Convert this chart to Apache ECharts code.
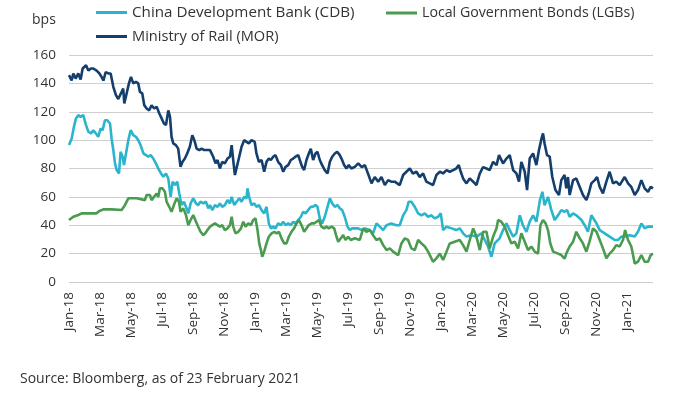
<!DOCTYPE html>
<html>
<head>
<meta charset="utf-8">
<script src="https://cdn.jsdelivr.net/npm/echarts@6/dist/echarts.min.js"></script>
<style>
html,body{margin:0;padding:0;background:#fff;}
#chart{width:673px;height:395px;}
</style>
</head>
<body>
<div id="chart"></div>
<script>
// x positions are months since 1 Jan 2018 (0 = Jan-18, 36 = Jan-21)
const monthNames = ['Jan','Feb','Mar','Apr','May','Jun','Jul','Aug','Sep','Oct','Nov','Dec'];
const yTicks = [0, 20, 40, 60, 80, 100, 120, 140, 160];

const morMonths = [0,0.17,0.28,0.43,0.6,0.75,0.88,1.1,1.25,1.42,1.57,1.78,1.96,2.1,2.22,2.37,2.54,2.69,2.86,3.03,3.18,3.29,3.4,3.5,3.57,3.72,3.87,4.0,4.15,4.32,4.47,4.58,4.73,4.86,5.01,5.18,5.33,5.5,5.66,5.83,5.98,6.13,6.26,6.41,6.52,6.62,6.73,6.9,7.05,7.2,7.33,7.48,7.63,7.8,7.96,8.09,8.24,8.41,8.56,8.73,8.88,9.1,9.31,9.46,9.59,9.74,9.89,10.06,10.23,10.39,10.5,10.6,10.71,10.86,10.99,11.14,11.31,11.46,11.61,11.78,11.89,11.99,12.1,12.26,12.43,12.6,12.75,12.9,13.03,13.18,13.33,13.5,13.68,13.83,13.98,14.15,14.32,14.47,14.62,14.8,14.9,15.05,15.18,15.33,15.48,15.61,15.76,15.91,16.04,16.19,16.34,16.51,16.69,16.84,16.99,17.16,17.31,17.48,17.59,17.76,17.91,18.06,18.23,18.45,
  18.67,18.9,19.1,19.3,19.53,19.74,19.96,20.17,20.39,20.6,20.8,21.03,21.35,21.57,21.78,22.0,22.2,22.43,22.64,22.86,23.07,23.29,23.5,23.72,23.94,24.15,24.37,24.58,24.8,25.0,25.16,25.29,25.44,25.66,25.87,26.09,26.3,26.52,26.73,26.95,27.16,27.38,27.6,27.76,28.02,28.24,28.45,28.67,28.88,29.05,29.2,29.42,29.57,29.74,29.96,30.17,30.34,30.5,30.6,30.7,30.86,31.03,31.2,31.4,31.63,31.78,31.99,32.1,32.21,32.32,32.54,32.75,32.97,33.18,33.4,33.55,33.72,33.94,34.09,34.26,34.47,34.69,34.9,35.12,35.33,35.55,35.87,36.09,36.3,36.52,36.73,36.95,37.16,37.38,37.55,37.7];
const morValues = [145.8,142,147,143.4,147,142.7,150.5,152.8,149,150.5,150.5,149,147,144.6,142,148,147,147,137.6,131.7,129,128,134,136.4,125.8,132.9,140,144.6,140,141,140,134,132.9,124.6,122.3,121,124.6,122.3,123.5,118.8,115.3,111.7,110.6,121,116.4,102.3,97.7,96.5,94,81.2,84.7,87,90.6,95.3,103.5,100,94,93,94,93,93,93,88.3,83.6,86,80,84.7,83.6,87,88.3,96.5,86,75.4,82.4,88.3,95.3,100,98.8,97.7,100,101,98.8,90.6,84.7,86,77.7,84.7,87,86,88.3,89.4,84.7,82.4,77.7,81.2,82.4,86,87,88.3,89.4,86,81.2,78.9,86,90.6,94,86,90.6,91.8,86,82.4,78.9,76.5,84.7,88.3,90.6,91.8,89.4,87,82.4,80,82.4,80,81.2,
  83.6,81,82.4,76.5,69.5,74,70.7,74,68.3,71.8,70.7,70.7,68.3,75.4,77.7,80,76.5,77.7,74,76.5,70.7,69.5,68.3,75.4,77.7,76.5,78.9,77.7,78.9,80,82.4,77.7,73,69.5,73,70.7,68.3,76.5,81,80,78.9,84.7,82.4,89.4,83.6,87,89.4,78.9,76.5,70.7,84.7,77.7,64.8,87,90.6,82.4,93,101,104.7,97.6,89.4,88.3,74,64.8,61.3,71.8,75.4,66,74,61.3,71.8,73,67,61.3,57.7,62.4,69.5,71.8,74,67,62.4,70.7,77.7,69.5,70.7,68.3,74,69.5,67,61.3,64.8,71.8,66,63.6,67,66];

const cdbMonths = [0,0.17,0.32,0.45,0.6,0.75,0.92,1.1,1.25,1.42,1.57,1.74,1.89,2.04,2.17,2.32,2.47,2.65,2.75,2.86,2.97,3.08,3.23,3.33,3.46,3.55,3.68,3.83,3.98,4.15,4.32,4.47,4.62,4.8,4.97,5.12,5.27,5.44,5.61,5.76,5.94,6.09,6.26,6.41,6.56,6.69,6.84,6.99,7.12,7.27,7.42,7.55,7.7,7.85,8.02,8.2,8.34,8.49,8.67,8.84,8.99,9.1,9.25,9.42,9.59,9.74,9.89,10.06,10.23,10.39,10.5,10.67,10.82,10.99,11.14,11.31,11.46,11.52,11.63,11.78,11.96,12.1,12.26,12.43,12.6,12.75,12.9,13.03,13.18,13.33,13.5,13.68,13.83,13.98,14.15,14.32,14.47,14.62,14.8,14.97,15.12,15.27,15.44,15.61,15.76,15.91,16.04,16.19,16.34,16.51,16.69,16.84,16.99,17.16,17.33,17.48,17.63,17.8,17.98,18.13,18.28,
  18.66,18.9,19.1,19.42,19.63,19.85,20.06,20.28,20.5,20.8,21.14,21.35,21.57,21.78,21.93,22.1,22.32,22.54,22.75,22.97,23.18,23.4,23.6,23.83,24.0,24.15,24.37,24.7,25.0,25.23,25.44,25.66,25.98,26.3,26.62,26.84,27.05,27.27,27.48,27.8,28.02,28.24,28.45,28.67,28.88,29.1,29.3,29.53,29.74,29.96,30.17,30.4,30.56,30.7,30.92,31.14,31.35,31.57,31.78,31.99,32.15,32.32,32.54,32.75,33.08,33.29,33.5,33.72,33.83,34.05,34.26,34.58,34.9,35.23,35.44,35.66,35.87,36.19,36.52,36.73,36.95,37.16,37.38,37.7];
const cdbValues = [96.5,101,109.4,115.3,117.6,116.4,117.6,110.6,105.9,104.7,107,104.7,102.3,108.2,107,114,114,111.7,101,93,83.6,78.9,76.5,91.8,88.3,82.4,90.6,100,107,103.5,102.3,100,96.5,90.6,89.4,88.3,89.4,87,83.6,80,76.5,74.2,76.5,73,60,70.7,68.3,70.7,62.4,54.2,56.6,53,48.4,55.4,59,55.4,54.2,56.6,55.4,56.6,51.9,54.2,50.7,54.2,53,55.4,53,54.2,57.7,55.4,60,54.2,56.6,59,56.6,60,59,66,60,54.2,55.4,53,54.2,50.7,48.4,53,41.3,37.8,39,37.8,41.3,40.1,42.5,40.1,41.3,40.1,42.5,41.3,43.7,46,49.5,48.4,50.7,53,53,54.2,53,44.8,41.3,46,53,59,55.4,53,54.2,51.9,50.7,46,39,36.6,37.8,
  37.8,36.6,37.8,36.6,34.3,41.3,39,36.6,40,41.3,40,40,47,50.7,56.6,56.6,53,48.4,47,48.4,46,47,44.8,46,48.4,36.6,39,37.8,36.6,37.8,34.3,32,33,32,34.3,29.6,25,17.8,27.2,30.8,36.6,41.3,36.6,32,34.3,47,40,35.4,42.5,47,42.5,57.7,63.6,54,60,50.7,43.7,47,50.7,49.5,50.7,46,48.4,47,43.7,40,35.4,47,48.4,41.3,36.6,34.3,32,29.6,29.6,32,32,33,32,35.4,41.3,37.8,39,39];

const lgbMonths = [0,0.28,0.6,0.82,1.78,1.96,2.22,2.75,2.86,3.4,3.61,3.83,4.37,4.47,4.9,5.01,5.23,5.33,5.48,5.66,5.76,5.87,6.04,6.19,6.3,6.47,6.62,6.77,6.95,7.1,7.2,7.38,7.55,7.7,7.85,8.02,8.2,8.34,8.49,8.67,8.8,8.94,9.1,9.25,9.42,9.59,9.74,9.89,10.06,10.23,10.39,10.5,10.6,10.75,10.93,11.1,11.25,11.4,11.57,11.74,11.89,12.04,12.17,12.28,12.39,12.47,12.6,12.75,12.9,13.08,13.25,13.4,13.55,13.72,13.89,14.04,14.19,14.36,14.53,14.69,14.84,15.01,15.18,15.33,15.48,15.66,15.83,15.98,16.13,16.3,16.47,16.62,16.77,16.95,17.12,17.27,17.38,17.55,17.7,17.85,18.02,18.19,18.45,
  18.77,18.99,19.2,19.42,19.63,19.85,20.06,20.28,20.5,20.71,20.92,21.25,21.46,21.68,21.89,22.1,22.32,22.54,22.75,22.97,23.18,23.5,23.72,23.94,24.15,24.37,24.58,24.9,25.22,25.33,25.44,25.66,25.87,26.09,26.3,26.52,26.73,26.95,27.16,27.38,27.6,27.7,27.9,28.13,28.34,28.56,28.77,28.99,29.2,29.42,29.63,29.85,30.06,30.28,30.43,30.6,30.77,30.92,31.07,31.25,31.57,31.78,32.0,32.1,32.32,32.54,32.75,32.97,33.18,33.4,33.6,33.83,34.05,34.26,34.47,34.69,34.9,35.12,35.33,35.55,35.76,35.9,36.09,36.3,36.52,36.73,36.95,37.16,37.38,37.55,37.7];
const lgbValues = [43.7,46,47.2,48.4,48.4,50,51.2,51.2,50.7,50.7,54.2,59,59,57.7,57.7,61.3,61.3,57.7,60,62.4,60,66,66,63.6,56.6,53,49.5,54.2,59,56.6,49.5,51.9,47.2,40.1,43.7,47.2,42.5,39,35.4,33.1,34.3,36.6,39,40.1,41.3,40.1,39,40.1,36.6,37.8,40.1,46,39,34.3,35.4,37.8,42.5,39,41.3,40.1,43.7,44.8,36.6,27.2,22.5,17.8,21.4,27.2,31.9,34.3,35.4,34.3,35.4,30.8,27.2,27.2,31.9,35.4,37.8,41.3,43.7,40.1,35.4,37.8,40.1,41.3,41.3,42.5,43.7,39,37.8,39,37.8,39,37.8,31.9,28.4,30.8,33.1,29.6,31.9,29.6,30.8,
  29.6,37.8,35.4,36.6,33,29.6,30.8,26,22.5,23.7,21.4,19,27.2,30.8,29.6,23.7,22.5,29.6,27.2,25,21.4,14.3,16.7,20,15.5,21.4,27.2,28.4,29.6,30.8,26,21.4,29.6,37.8,32,22.5,35.4,35.4,23.7,32,37.8,43.7,42.5,39,33,27.2,28.4,23.7,34.3,28.4,22.5,25,21.4,20,40,43.7,41.3,36.6,27.2,21.4,20,19,16.5,20,25,28.4,35.4,30.8,27.2,21.4,28.4,37.8,35.4,29.6,23.7,16.7,20,22.5,26,25,29.6,36.6,29.6,25,13,14.3,19,14.3,14.3,19,20];

const seriesNames = ['China Development Bank (CDB)', 'Local Government Bonds (LGBs)', 'Ministry of Rail (MOR)'];
const seriesColors = ['#2ab5cd', '#4a9b50', '#143f6c'];

function pairs(t, v) { return t.map((x, i) => [x, v[i]]); }

const FONT = 'Open Sans';
const chart = echarts.init(document.getElementById('chart'), null, {renderer: 'canvas'});
function legendAt(name, left, top, size) {
  return {
    data: [name], left: left, top: top, orient: 'horizontal',
    itemWidth: 31, itemHeight: 3, icon: 'rect', itemGap: 0, padding: 0, selectedMode: false,
    textStyle: {color: '#333', fontSize: size, fontFamily: FONT}
  };
}

chart.setOption({
  animation: false,
  backgroundColor: '#fff',
  grid: {left: 69, right: 20, top: 55, bottom: 113},
  legend: [
    legendAt(seriesNames[0], 96, 5, 15.2),
    legendAt(seriesNames[2], 96, 29, 14.6),
    legendAt(seriesNames[1], 386, 6, 14.2)
  ],
  xAxis: {
    type: 'value', min: 0, max: 37.7, interval: 2,
    axisLine: {show: false}, axisTick: {show: false}, splitLine: {show: false},
    axisLabel: {
      rotate: 90, margin: 10, color: '#333', fontSize: 13.5, fontFamily: FONT,
      showMaxLabel: false,
      formatter: function (v) {
        if (Math.abs(v - Math.round(v)) > 1e-6) return '';
        const m = Math.round(v);
        return monthNames[m % 12] + '-' + (18 + Math.floor(m / 12));
      }
    }
  },
  yAxis: {
    type: 'value', min: yTicks[0], max: yTicks[yTicks.length - 1], interval: 20,
    axisLine: {show: false}, axisTick: {show: false},
    splitLine: {lineStyle: {color: '#cfcfcf', width: 1}},
    axisLabel: {margin: 13, color: '#333', fontSize: 13.5, fontFamily: FONT}
  },
  graphic: [
    {type: 'text', left: 32, top: 13, style: {text: 'bps', fill: '#333', font: '14px "Open Sans"'}},
    {type: 'text', left: 20, top: 372, style: {text: 'Source: Bloomberg, as of 23 February 2021', fill: '#333', font: '14px "Open Sans"'}}
  ],
  series: [
    {name: seriesNames[0], type: 'line', data: pairs(cdbMonths, cdbValues), showSymbol: false, lineStyle: {width: 2.6, color: seriesColors[0]}, itemStyle: {color: seriesColors[0]}, z: 2},
    {name: seriesNames[1], type: 'line', data: pairs(lgbMonths, lgbValues), showSymbol: false, lineStyle: {width: 2.6, color: seriesColors[1]}, itemStyle: {color: seriesColors[1]}, z: 3},
    {name: seriesNames[2], type: 'line', data: pairs(morMonths, morValues), showSymbol: false, lineStyle: {width: 2.6, color: seriesColors[2]}, itemStyle: {color: seriesColors[2]}, z: 4}
  ]
});
</script>
</body>
</html>
